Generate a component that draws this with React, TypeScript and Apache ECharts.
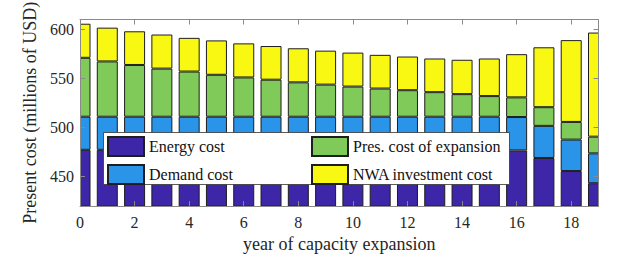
import React, { useEffect, useRef } from "react";
import * as echarts from "echarts";

const years = ["0", "1", "2", "3", "4", "5", "6", "7", "8", "9", "10", "11", "12", "13", "14", "15", "16", "17", "18", "19"];
const energyCost = [477.3, 477.3, 477.3, 477.3, 477.3, 477.3, 477.3, 477.3, 477.3, 477.3, 477.3, 477.3, 477.3, 477.3, 477.3, 477.3, 476.7, 469, 455.7, 443.3];
const demandCost = [33.7, 33.7, 33.7, 33.7, 33.7, 33.7, 33.7, 33.7, 33.7, 33.7, 33.7, 33.7, 33.7, 33.7, 33.7, 33.7, 34, 32.7, 32, 30.4];
const expansionCost = [60, 56.3, 52.7, 49, 46, 42.7, 40, 37.7, 35, 32.7, 30.7, 28.7, 27, 25, 23, 21, 20, 19, 18, 17];
const nwaCost = [34.7, 34.4, 34.3, 34.7, 34.3, 35, 34.7, 34.3, 34.7, 34.6, 34.6, 34.3, 34.3, 34.3, 35, 38.3, 44, 61, 83.3, 106];
const yTicks = [450, 500, 550, 600];

const FONT = "Liberation Serif";
const W = 623;
const H = 258;
const GRID = { left: 80, right: 24.5, top: 19.5, bottom: 48.5 };

export default function App() {
  const ref = useRef<HTMLDivElement>(null);
  useEffect(() => {
    if (!ref.current) return;
    const chart = echarts.init(ref.current, undefined, { renderer: "svg" });
    const mk = (name: string, vals: number[], color: string) => ({
      name,
      type: "bar",
      stack: "total",
      barWidth: 21,
      clip: true,
      data: vals,
      itemStyle: { color, borderColor: "#1e1e1e", borderWidth: 1 },
      z: 2,
    });
    const axisLine = { show: true, lineStyle: { color: "#8a8a8a", width: 1 } };
    const tickStyle = { lineStyle: { color: "#8a8a8a", width: 1 } };
    const legendCommon = {
      orient: "vertical",
      itemWidth: 36,
      itemHeight: 19,
      itemGap: 7,
      padding: 0,
      z: 60,
      textStyle: { fontFamily: FONT, fontSize: 16, color: "#111" },
      icon: "rect",
      selectedMode: false,
    };
    const xCommon = {
      type: "category",
      data: years,
      boundaryGap: false,
      z: 5,
      axisLine,
      splitLine: { show: false },
      axisTick: { show: true, inside: true, length: 5, interval: 1, ...tickStyle },
    };
    const plotH = H - GRID.top - GRID.bottom;
    chart.setOption({
      animation: false,
      backgroundColor: "#fff",
      grid: GRID,
      xAxis: [
        {
          ...xCommon,
          position: "bottom",
          axisLabel: { interval: 1, fontFamily: FONT, fontSize: 16, color: "#262626", margin: 8 },
          name: "year of capacity expansion",
          nameLocation: "middle",
          nameGap: 25,
          nameTextStyle: { fontFamily: FONT, fontSize: 18, color: "#262626" },
        },
        {
          ...xCommon,
          position: "top",
          axisLabel: { show: false },
        },
      ],
      yAxis: [
        {
          type: "value",
          min: 420,
          max: 610,
          position: "left",
          z: 5,
          axisLine,
          splitLine: { show: false },
          axisTick: { show: true, inside: true, length: 5, customValues: yTicks, ...tickStyle },
          axisLabel: { customValues: yTicks, fontFamily: FONT, fontSize: 16, color: "#262626", margin: 6 },
          name: "Present cost (millions of USD)",
          nameLocation: "middle",
          nameGap: 34,
          nameTextStyle: { fontFamily: FONT, fontSize: 18, color: "#262626" },
        },
        {
          type: "value",
          min: 420,
          max: 610,
          position: "right",
          z: 5,
          axisLine,
          splitLine: { show: false },
          axisTick: { show: true, inside: true, length: 5, customValues: yTicks, ...tickStyle },
          axisLabel: { show: false, customValues: yTicks },
        },
      ],
      legend: [
        { ...legendCommon, left: 107, top: 136, data: ["Energy cost", "Demand cost"] },
        { ...legendCommon, left: 311, top: 136, data: ["Pres. cost of expansion", "NWA investment cost"] },
      ],
      graphic: [
        // white masks that clip the half bars sticking out of the plot box
        {
          type: "rect",
          z: 4,
          silent: true,
          shape: { x: GRID.left - 16, y: GRID.top - 2, width: 16, height: plotH + 4 },
          style: { fill: "#fff" },
        },
        {
          type: "rect",
          z: 4,
          silent: true,
          shape: { x: W - GRID.right, y: GRID.top - 2, width: 16, height: plotH + 4 },
          style: { fill: "#fff" },
        },
        {
          type: "rect",
          z: 50,
          shape: { x: 103.5, y: 132.5, width: 406, height: 52 },
          style: { fill: "#fff", stroke: "#333", lineWidth: 0.8 },
        },
      ],
      series: [
        mk("Energy cost", energyCost, "#3d26a8"),
        mk("Demand cost", demandCost, "#2a94e8"),
        mk("Pres. cost of expansion", expansionCost, "#7fca58"),
        mk("NWA investment cost", nwaCost, "#f8f812"),
      ],
    });
    return () => chart.dispose();
  }, []);
  return (
    <div
      ref={ref}
      style={{ position: "fixed", left: 0, top: 0, width: W, height: H }}
    />
  );
}
